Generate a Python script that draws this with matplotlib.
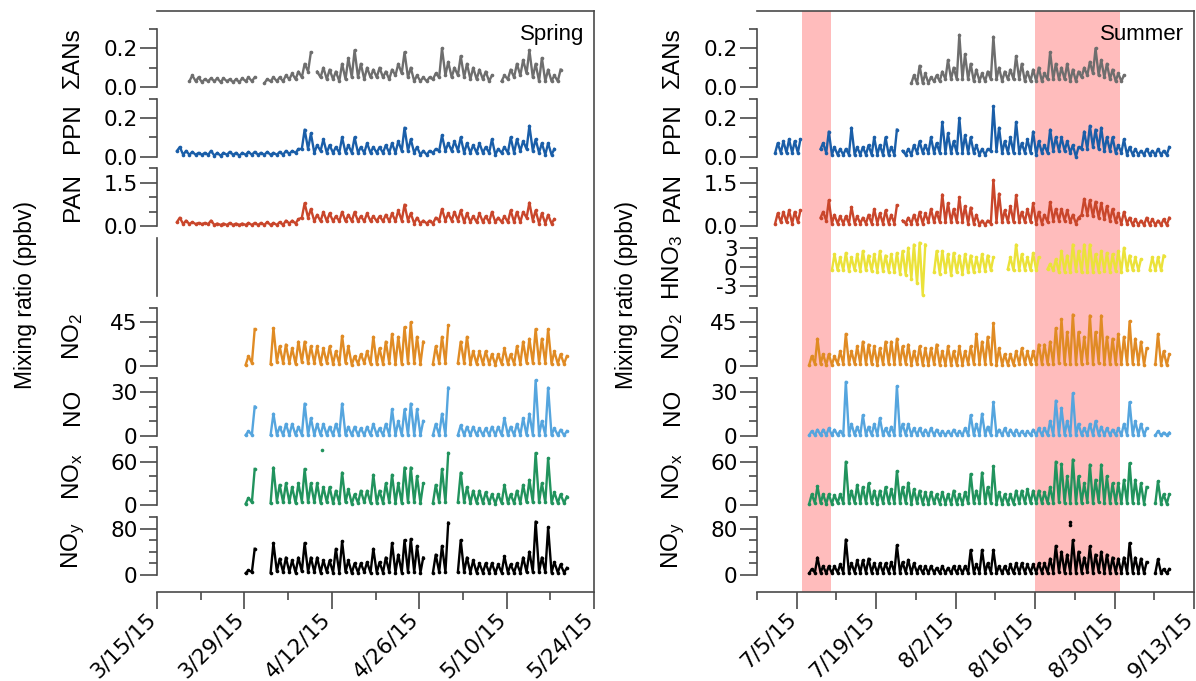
import numpy as np
import matplotlib
matplotlib.use("Agg")
import matplotlib.pyplot as plt
import matplotlib.transforms as mtransforms

plt.rcParams['font.family'] = ['Liberation Sans', 'DejaVu Sans']
plt.rcParams['mathtext.fontset'] = 'custom'
plt.rcParams['mathtext.rm'] = 'Liberation Sans'
plt.rcParams['mathtext.default'] = 'regular'

# ---------------------------------------------------------------
# data: daily low / daily high (ppbv)
# day index = days after day0 of each season, None = no data
# ---------------------------------------------------------------
spr_day0 = '2015-03-15'
sum_day0 = '2015-06-28'

# ---- spring ----
spr_san_start = 5
spr_san_hi = [.06, .05, .04, .045, .045, .045, .04, .04, .045, .05,
              .05, None, .04, .05, .05, .06, .07, .08, .12, .18,
              .08, .10, .09, .08, .12, .15, .19, .12, .10, .09,
              .10, .08, .09, .12, .18, .10, .06, .05, .05, .07,
              .20, .13, .10, .16, .12, .10, .09, .08, .06, None,
              .06, .09, .12, .14, .19, .12, .15, .09, .06, .09]
spr_san_lo = [.03, .03, .025, .03, .03, .025, .03, .025, .025, .03,
              .03, None, .02, .03, .03, .03, .04, .04, .05, .08,
              None, .05, .04, .04, .03, .04, .05, .05, .04, .05,
              .05, .05, .04, .06, .07, .05, .03, .03, .03, .04,
              .05, .06, .05, .06, .05, .04, .04, .04, .03, None,
              .03, .04, .05, .06, .07, .05, .03, .03, .03, .03]

spr_ppn_start = 3
spr_ppn_hi = [.05, .03, .025, .02, .02, .03, .02, .02, .025, .02,
              .02, .025, .025, .02, .025, .02, .025, .03, .03, .04,
              .14, .12, .06, .09, .06, .05, .10, .06, .10, .05,
              .07, .05, .05, .06, .07, .08, .15, .09, .05, .03,
              .03, .04, .11, .07, .08, .10, .07, .06, .07, .05,
              .09, .04, .05, .10, .09, .08, .16, .09, .07, .07,
              .04]
spr_ppn_lo = [.03, .01, .01, .01, .01, .01, .005, .005, .01, .01,
              .005, .01, .01, .01, .01, .01, .01, .01, .015, .02,
              .04, .04, .02, .03, .02, .02, .02, .02, .02, .02,
              .02, .02, .02, .02, .02, .02, .03, .03, .02, .01,
              .01, .02, .03, .03, .03, .03, .02, .02, .02, .02,
              .02, .01, .02, .02, .02, .03, .04, .03, .02, .01,
              .01]

spr_pan_start = 3
spr_pan_hi = [.30, .20, .15, .12, .12, .20, .10, .10, .12, .10,
              .10, .12, .12, .12, .15, .12, .15, .20, .20, .25,
              .80, .60, .40, .50, .45, .35, .50, .40, .50, .35,
              .45, .35, .35, .40, .45, .55, .75, .45, .30, .20,
              .20, .30, .60, .45, .50, .55, .45, .35, .45, .35,
              .50, .30, .35, .55, .50, .50, .82, .55, .45, .40,
              .25]
spr_pan_lo = [.15, .08, .08, .08, .08, .08, .05, .05, .05, .05,
              .05, .05, .05, .05, .05, .05, .05, .05, .10, .10,
              .30, .30, .18, .18, .18, .18, .18, .18, .18, .18,
              .18, .18, .18, .18, .18, .18, .20, .20, .10, .10,
              .10, .10, .20, .20, .20, .20, .15, .15, .15, .15,
              .15, .15, .15, .15, .15, .15, .30, .20, .10, .10,
              .10]

spr_nox_start = 14   # NO2, NO, NOx, NOy all start here
spr_no2_hi = [10, 38, None, None, 39, 20, 22, 18, 25, 25,
              20, 20, 18, 20, 15, 31, 20, 10, 12, 15,
              30, 18, 25, 33, 30, 40, 45, 30, 25, None,
              20, 30, 42, None, 25, 30, 15, 15, 15, 12,
              12, 18, 12, 20, 25, 28, 38, 28, 38, 15,
              12, 10]
spr_no2_lo = [1, 3, None, None, 2, 4, 3, 3, 2, 4,
              3, 3, 2, 3, 2, 2, 3, 1, 2, 3,
              2, 2, 2, 3, 2, 2, 3, 3, 2, None,
              2, 3, 3, None, 3, 3, 2, 2, 2, 2,
              1, 2, 2, 2, 2, 3, 3, 3, 3, 2,
              2, 2]
spr_no_hi = [3, 20, None, None, 15, 6, 8, 8, 6, 22,
             12, 8, 8, 6, 8, 22, 6, 6, 5, 6,
             8, 5, 8, 18, 10, 18, 22, 18, 10, None,
             8, 15, 33, None, 7, 6, 6, 5, 5, 6,
             6, 12, 6, 8, 12, 15, 38, 10, 33, 5,
             4, 3]
spr_no_lo = [.3, .5, None, None, .4, .3, .3, .3, .3, .4,
             .3, .3, .3, .3, .3, .4, .3, .2, .3, .3,
             .3, .3, .3, .4, .3, .3, .4, .4, .3, None,
             .3, .3, .4, None, .3, .3, .3, .2, .2, .3,
             .2, .3, .3, .3, .3, .3, .4, .3, .4, .3,
             .2, .2]
spr_nox_hi = [10, 50, None, None, 52, 28, 30, 25, 30, 50,
              30, 30, 25, 25, 20, 45, 22, 15, 20, 20,
              42, 20, 30, 42, 30, 52, 52, 40, 30, None,
              28, 50, 72, None, 45, 25, 20, 20, 18, 15,
              15, 28, 15, 20, 28, 35, 72, 30, 65, 18,
              15, 12]
spr_nox_lo = [2, 4, None, None, 3, 5, 4, 4, 3, 5,
              4, 4, 3, 4, 3, 3, 4, 2, 3, 4,
              3, 3, 3, 4, 3, 3, 4, 4, 3, None,
              3, 4, 4, None, 4, 4, 3, 3, 3, 3,
              2, 3, 3, 3, 3, 4, 4, 4, 4, 3,
              3, 3]
spr_noy_hi = [8, 45, None, None, 55, 28, 30, 25, 30, 55,
              30, 30, 25, 25, 45, 58, 25, 20, 20, 22,
              45, 22, 30, 55, 35, 60, 62, 50, 30, None,
              35, 50, 90, None, 60, 30, 25, 20, 20, 20,
              18, 32, 18, 20, 30, 40, 92, 30, 82, 22,
              18, 12]
spr_noy_lo = [3, 5, None, None, 4, 6, 5, 5, 4, 6,
              5, 5, 4, 5, 4, 4, 5, 3, 4, 5,
              4, 4, 4, 5, 4, 4, 5, 5, 4, None,
              4, 5, 5, None, 5, 5, 4, 4, 4, 4,
              3, 4, 4, 4, 4, 5, 5, 5, 5, 4,
              4, 4]
spr_nox_dot_day = [26.5]
spr_nox_dot_val = [76]

# ---- summer ----
sum_san_start = 27
sum_san_hi = [.06, .11, .07, .05, .06, .08, .14, .10, .27, .17,
              .12, .09, .07, .08, .26, .10, .08, .09, .16, .12,
              .08, .09, .10, .07, .18, .12, .10, .12, .09, .08,
              .10, .13, .20, .14, .12, .09, .07, .06]
sum_san_lo = [.02, .02, .02, .02, .03, .03, .04, .04, .04, .04,
              .04, .03, .03, .03, .04, .04, .03, .04, .04, .04,
              .03, .03, .03, .03, .04, .04, .04, .04, .03, .03,
              .05, .06, .07, .06, .05, .04, .03, .03]

sum_ppn_start = 3
sum_ppn_hi = [.07, .08, .09, .08, .09, None, None, None, .07, .13,
              .05, .04, .04, .15, .05, .05, .06, .10, .06, .10,
              .05, .14, .03, .04, .06, .08, .06, .10, .07, .18,
              .12, .08, .20, .11, .10, .06, .04, .04, .26, .15,
              .08, .10, .18, .07, .09, .13, .08, .06, .14, .10,
              .10, .08, .06, .05, .13, .16, .14, .15, .10, .10,
              .06, .09, .05, .04, .03, .04, .03, .04, .03, .05]
sum_ppn_lo = [.02, .02, .02, .02, .02, None, None, None, .04, .02,
              .01, .01, .01, .01, .01, .01, .01, .01, .01, .01,
              .01, .01, None, .01, .01, .02, .02, .02, .02, .02,
              .02, .02, .02, .02, .02, .02, .01, .01, .03, .03,
              .02, .02, .02, .02, .02, .02, .01, .02, .02, .03,
              .03, .03, .02, .00, .04, .04, .05, .04, .03, .03,
              .02, .02, .01, .01, .01, .01, .01, .01, .01, .01]

sum_pan_start = 3
sum_pan_hi = [.45, .50, .55, .50, .55, None, None, None, .50, .90,
              .40, .35, .35, .67, .35, .30, .40, .60, .45, .55,
              .40, .73, .20, .30, .40, .50, .45, .60, .50, 1.10,
              .80, .60, 1.00, .70, .65, .40, .20, .20, 1.60, 1.13,
              .55, .70, 1.07, .50, .60, .80, .50, .40, .84, .60,
              .60, .55, .40, .30, .95, .90, .85, .80, .70, .60,
              .45, .50, .30, .25, .20, .30, .25, .20, .25, .30]
sum_pan_lo = [.10, .15, .15, .10, .15, None, None, None, .30, .20,
              .10, .10, .10, .10, .10, .10, .10, .10, .10, .10,
              .10, .10, None, .10, .10, .10, .10, .15, .15, .15,
              .15, .15, .15, .15, .10, .10, .05, .05, .10, .15,
              .15, .15, .15, .15, .15, .15, .10, .10, .15, .20,
              .20, .20, .15, .10, .40, .40, .35, .30, .25, .20,
              .15, .10, .10, .05, .05, .05, .05, .05, .05, .05]

sum_hno3_start = 13
sum_hno3_hi = [2.0, 1.5, 2.2, 1.5, 2.0, 2.5, 1.8, 2.0, 2.5, 1.8,
               2.0, 2.2, 2.5, 3.0, 3.5, 3.8, 3.5, None, 2.5, 2.5,
               2.0, 2.2, 1.8, 2.0, 1.8, 1.5, 2.0, 1.8, 1.5, None,
               None, 1.5, 3.5, 2.0, 1.5, 2.2, 1.5, None, 0.5, 1.2,
               2.5, 1.8, 3.5, 2.5, 3.5, 3.5, 2.0, 2.5, 2.2, 2.0,
               2.5, 3.0, 1.8, 1.5, 1.2, None, 1.5, 1.5, 1.8]
sum_hno3_lo = [-.5, -.5, -.5, -.6, -.5, -.6, -.5, -.6, -.7, -.6,
               -.7, -.8, -1.0, -1.2, -1.8, -2.5, -4.3, None, -.8, -1.0,
               -.8, -1.2, -.8, -1.0, -.8, -.8, -.6, -.6, -.5, None,
               None, -.3, -.5, -.5, -.4, -.5, -.5, None, -.3, -.5,
               -.8, -.7, -.8, -.6, -.8, -.8, -.7, -.7, -.6, -.7,
               -.6, -.7, -.5, -.5, -.5, None, -.4, -.5, -.5]

sum_nox_start = 9   # NO2, NO, NOx, NOy all start here
sum_no2_hi = [10, 28, 12, 12, 10, 15, 33, 15, 20, 25,
              22, 20, 18, 25, 25, 28, 20, 22, 15, 20,
              18, 18, 22, 15, 20, 15, 20, 15, 20, 33,
              25, 30, 44, 18, 12, 12, 15, 18, 15, 15,
              22, 22, 25, 39, 48, 35, 53, 35, 30, 52,
              35, 52, 30, 28, 33, 30, 46, 28, 25, 18,
              None, 33, 15, 12]
sum_no2_lo = [1, 2, 2, 1, 1, 2, 2, 2, 2, 2,
              2, 2, 1, 2, 2, 2, 2, 2, 1, 2,
              1, 1, 2, 1, 1, 1, 1, 1, 2, 2,
              2, 2, 2, 1, 1, 1, 1, 2, 2, 2,
              2, 2, 2, 2, 3, 2, 2, 2, 2, 3,
              2, 3, 2, 2, 2, 2, 2, 2, 2, 1,
              None, 2, 1, 1]
sum_no_hi = [3, 4, 4, 5, 4, 3, 37, 8, 6, 14,
             6, 8, 12, 5, 6, 34, 8, 8, 5, 5,
             4, 5, 4, 3, 3, 4, 3, 5, 14, 8,
             15, 6, 23, 4, 5, 4, 4, 3, 3, 4,
             5, 5, 10, 24, 19, 10, 29, 8, 5, 8,
             10, 6, 5, 4, 5, 8, 23, 10, 8, 5,
             None, 3, 2, 2]
sum_no_lo = [.3, .3, .3, .3, .3, .3, .4, .3, .3, .3,
             .3, .3, .3, .3, .3, .4, .3, .3, .3, .3,
             .2, .2, .3, .2, .2, .2, .2, .2, .3, .3,
             .3, .3, .4, .2, .2, .2, .2, .2, .2, .2,
             .3, .3, .3, .4, .4, .3, .4, .3, .3, .3,
             .3, .3, .3, .3, .3, .3, .4, .3, .3, .2,
             None, .2, .2, .2]
sum_nox_hi = [15, 26, 15, 15, 14, 15, 60, 20, 28, 25,
              30, 20, 20, 25, 22, 47, 25, 31, 22, 20,
              18, 18, 15, 18, 15, 20, 15, 18, 43, 20,
              45, 25, 54, 18, 15, 15, 20, 20, 22, 20,
              20, 18, 25, 60, 57, 40, 63, 40, 30, 56,
              35, 56, 40, 30, 30, 35, 58, 35, 30, 25,
              None, 33, 15, 15]
sum_nox_lo = [2, 3, 3, 2, 2, 3, 3, 3, 3, 3,
              3, 3, 2, 3, 3, 3, 3, 3, 2, 3,
              2, 2, 3, 2, 2, 2, 2, 2, 3, 3,
              3, 3, 3, 2, 2, 2, 2, 3, 3, 3,
              3, 3, 3, 3, 4, 3, 3, 3, 3, 4,
              3, 4, 3, 3, 3, 3, 3, 3, 3, 2,
              None, 3, 2, 2]
sum_noy_hi = [10, 30, 15, 15, 15, 18, 61, 20, 25, 25,
              28, 20, 20, 20, 22, 51, 22, 26, 20, 15,
              15, 15, 12, 15, 12, 15, 15, 15, 43, 18,
              43, 20, 43, 15, 15, 18, 20, 20, 18, 18,
              20, 20, 28, 50, 40, 35, 60, 40, 30, 49,
              35, 40, 35, 30, 28, 30, 55, 30, 28, 22,
              None, 27, 10, 10]
sum_noy_lo = [3, 4, 4, 3, 3, 4, 4, 4, 4, 4,
              4, 4, 3, 4, 4, 4, 4, 4, 3, 4,
              3, 3, 4, 3, 3, 3, 3, 3, 4, 4,
              4, 4, 4, 3, 3, 3, 3, 4, 4, 4,
              4, 4, 4, 4, 5, 4, 4, 4, 4, 5,
              4, 5, 4, 4, 4, 4, 4, 4, 4, 3,
              None, 4, 3, 3]
sum_noy_dot_day = [55.1, 55.1]
sum_noy_dot_val = [86, 91]

# axis ticks
spr_xlim = ['2015-03-15', '2015-05-24']
spr_ticks = ['2015-03-15', '2015-03-29', '2015-04-12', '2015-04-26', '2015-05-10', '2015-05-24']
spr_ticklabels = ['3/15/15', '3/29/15', '4/12/15', '4/26/15', '5/10/15', '5/24/15']
spr_minor = ['2015-03-22', '2015-04-05', '2015-04-19', '2015-05-03', '2015-05-17']

sum_xlim = ['2015-06-28', '2015-09-13']
sum_ticks = ['2015-07-05', '2015-07-19', '2015-08-02', '2015-08-16', '2015-08-30', '2015-09-13']
sum_ticklabels = ['7/5/15', '7/19/15', '8/2/15', '8/16/15', '8/30/15', '9/13/15']
sum_minor = ['2015-06-28', '2015-07-12', '2015-07-26', '2015-08-09', '2015-08-23', '2015-09-06']
sum_spans = [('2015-07-06', '2015-07-11'), ('2015-08-16', '2015-08-31')]

# panel setup: name, ylim, major ticks, minor ticks, tick labels, colour
panels = [
    ('ΣANs', (0, 0.3), [0, 0.2], [0.1, 0.3], ['0.0', '0.2'], '#6e6e6e'),
    ('PPN', (0, 0.3), [0, 0.2], [0.1, 0.3], ['0.0', '0.2'], '#1a5ea8'),
    ('PAN', (0, 2.0), [0, 1.5], [0.5, 1.0, 2.0], ['0.0', '1.5'], '#c9462b'),
    ('HNO$_3$', (-4.5, 4.5), [-3, 0, 3], [-4.5, -1.5, 1.5, 4.5], ['-3', '0', '3'], '#ebe23a'),
    ('NO$_2$', (0, 60), [0, 45], [15, 30, 60], ['0', '45'], '#e08b24'),
    ('NO', (0, 40), [0, 30], [10, 20, 40], ['0', '30'], '#55a5de'),
    ('NO$_x$', (0, 80), [0, 60], [20, 40, 80], ['0', '60'], '#21935d'),
    ('NO$_y$', (0, 100), [0, 80], [20, 40, 60, 100], ['0', '80'], '#000000'),
]

spring = {
    0: (spr_san_start, spr_san_lo, spr_san_hi),
    1: (spr_ppn_start, spr_ppn_lo, spr_ppn_hi),
    2: (spr_pan_start, spr_pan_lo, spr_pan_hi),
    4: (spr_nox_start, spr_no2_lo, spr_no2_hi),
    5: (spr_nox_start, spr_no_lo, spr_no_hi),
    6: (spr_nox_start, spr_nox_lo, spr_nox_hi),
    7: (spr_nox_start, spr_noy_lo, spr_noy_hi),
}
summer = {
    0: (sum_san_start, sum_san_lo, sum_san_hi),
    1: (sum_ppn_start, sum_ppn_lo, sum_ppn_hi),
    2: (sum_pan_start, sum_pan_lo, sum_pan_hi),
    3: (sum_hno3_start, sum_hno3_lo, sum_hno3_hi),
    4: (sum_nox_start, sum_no2_lo, sum_no2_hi),
    5: (sum_nox_start, sum_no_lo, sum_no_hi),
    6: (sum_nox_start, sum_nox_lo, sum_nox_hi),
    7: (sum_nox_start, sum_noy_lo, sum_noy_hi),
}
spr_dots = {6: (spr_nox_dot_day, spr_nox_dot_val)}
sum_dots = {7: (sum_noy_dot_day, sum_noy_dot_val)}

# ---------------------------------------------------------------
W, H = 1196, 681
fig = plt.figure(figsize=(W / 100, H / 100), dpi=100)
AXC = '#4a4a4a'
TICKFONT = dict(family=['DejaVu Sans'], size=15.5)


def rect(x0, top, w, h):
    return [x0 / W, 1 - (top + h) / H, w / W, h / H]


def to_time(day0, days):
    mins = np.round(np.asarray(days, dtype=float) * 1440).astype(int)
    return np.datetime64(day0, 'm') + mins.astype('timedelta64[m]')


def day_xy(day0, start, lo, hi):
    assert len(lo) == len(hi)
    t, v = [], []
    for i, (a, b) in enumerate(zip(lo, hi)):
        t += [start + i + 0.2, start + i + 0.65]
        v += [np.nan if a is None else a, np.nan if b is None else b]
    return to_time(day0, t), np.array(v, dtype=float)


def draw_season(x0, day0, xlim, ticks, ticklabels, minor, title, data, dots, spans, show_hno3):
    dt = lambda s: np.array(s, dtype='datetime64[m]')
    fr = fig.add_axes(rect(x0, 11, 437, 581))
    fr.set_facecolor('none')
    fr.spines['left'].set_visible(False)
    for s in ['top', 'right', 'bottom']:
        fr.spines[s].set_color(AXC)
        fr.spines[s].set_linewidth(1.2)
    fr.yaxis.set_visible(False)
    fr.set_xlim(dt(xlim[0]), dt(xlim[1]))
    fr.set_ylim(0, 1)
    for a, b in spans:
        fr.axvspan(dt(a), dt(b), color='#ffbcbc', lw=0, zorder=0)
    fr.set_xticks(dt(ticks))
    fr.set_xticklabels(ticklabels, fontdict=dict(family=['DejaVu Sans'], size=15.5))
    fr.set_xticks(dt(minor), minor=True)
    fr.tick_params(axis='x', which='major', length=12, width=1.2, color=AXC, pad=5)
    fr.tick_params(axis='x', which='minor', length=6, width=1.2, color=AXC)
    shift = mtransforms.ScaledTranslation(-3 / 72, 0, fig.dpi_scale_trans)
    for lab in fr.get_xticklabels():
        lab.set_rotation(45)
        lab.set_ha('right')
        lab.set_va('center')
        lab.set_rotation_mode('anchor')
        lab.set_transform(lab.get_transform() + shift)
    fr.text(0.978, 0.978, title, transform=fr.transAxes, ha='right', va='top', fontsize=16)

    fig.text((x0 - 131) / W, 1 - 295 / H, 'Mixing ratio (ppbv)', rotation=90,
             ha='center', va='center', fontsize=16.5)

    for i, (name, lim, major, mnr, labs, col) in enumerate(panels):
        top = 29 + 69.7 * i
        ax = fig.add_axes(rect(x0, top, 437, 58), sharex=fr)
        ax.set_facecolor('none')
        for s in ['top', 'right', 'bottom']:
            ax.spines[s].set_visible(False)
        ax.spines['left'].set_color(AXC)
        ax.spines['left'].set_linewidth(1.2)
        ax.xaxis.set_visible(False)
        ax.set_ylim(*lim)
        if i == 3 and not show_hno3:
            ax.set_yticks([])
            continue
        ax.set_yticks(major)
        ax.set_yticklabels(labs, fontdict=TICKFONT)
        ax.set_yticks(mnr, minor=True)
        ax.tick_params(axis='y', which='major', length=12, width=1.2, color=AXC, pad=2)
        ax.tick_params(axis='y', which='minor', length=6, width=1.2, color=AXC)
        fig.text((x0 - 84) / W, 1 - (top + 29) / H, name, rotation=90,
                 ha='center', va='center', fontsize=17.5)
        if i in data:
            start, lo, hi = data[i]
            t, v = day_xy(day0, start, lo, hi)
            ax.plot(t, v, '-', color=col, lw=1.7, marker='o', ms=2.6, mew=0,
                    clip_on=False)
        if i in dots:
            dd, dv = dots[i]
            ax.plot(to_time(day0, dd), dv, 'o', color=col, ms=2.6, mew=0, clip_on=False)
        ax.set_xlim(dt(xlim[0]), dt(xlim[1]))


draw_season(157, spr_day0, spr_xlim, spr_ticks, spr_ticklabels, spr_minor, 'Spring',
            spring, spr_dots, [], False)
draw_season(757, sum_day0, sum_xlim, sum_ticks, sum_ticklabels, sum_minor, 'Summer',
            summer, sum_dots, sum_spans, True)

fig.savefig('out.png', dpi=100)
